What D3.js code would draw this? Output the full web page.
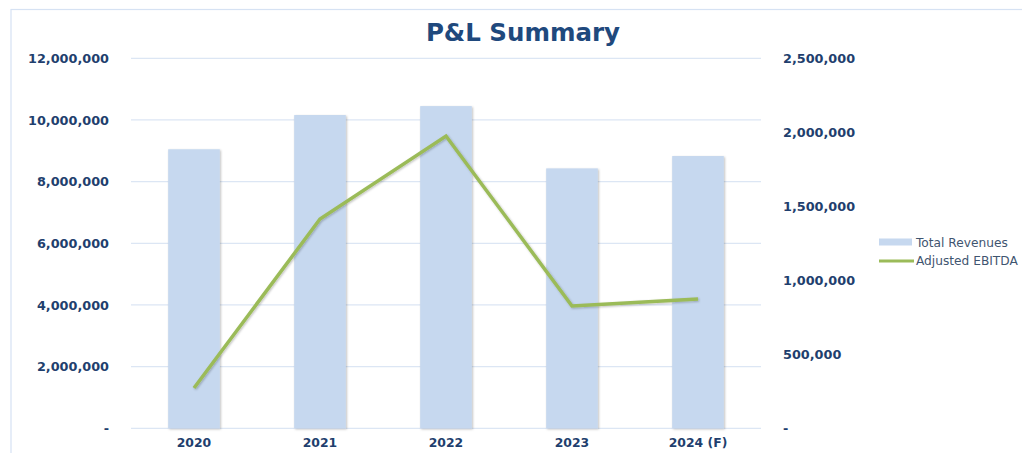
<!DOCTYPE html>
<html><head><meta charset="utf-8">
<script src="https://cdn.jsdelivr.net/npm/d3@7"></script>
<style>body{margin:0;background:#fff}svg{display:block}</style>
</head><body>
<svg id="c" width="1022" height="453"></svg>
<script>
const categories = ["2020","2021","2022","2023","2024 (F)"];
const revenues = [9050000, 10160000, 10450000, 8430000, 8830000];
const ebitda = [272000, 1414000, 1975000, 826000, 874000];
const leftTicks = [0, 2000000, 4000000, 6000000, 8000000, 10000000, 12000000];
const rightTicks = [0, 500000, 1000000, 1500000, 2000000, 2500000];
const seriesNames = ["Total Revenues", "Adjusted EBITDA"];

const svg = d3.select("#c");
const m = {l:131, r:761, t:58.3, b:428.3};
const txt = "#1F3F6E";
const FF = "Verdana, 'DejaVu Sans', sans-serif";
const fmt = v => v === 0 ? "-" : d3.format(",")(v);

const defs = svg.append("defs");
const f = defs.append("filter").attr("id","sh").attr("x","-20%").attr("y","-20%").attr("width","140%").attr("height","140%");
f.append("feDropShadow").attr("dx",1).attr("dy",1).attr("stdDeviation",1).attr("flood-color","#000").attr("flood-opacity",0.25);

// outer border
svg.append("rect").attr("x",11).attr("y",9.5).attr("width",1030).attr("height",460)
  .attr("fill","none").attr("stroke","#D6E2F3").attr("stroke-width",1.2);

const x = d3.scaleBand().domain(categories).range([m.l, m.r]).paddingInner(0.59).paddingOuter(0.295);
const yL = d3.scaleLinear().domain([0,12000000]).range([m.b, m.t]);
const yR = d3.scaleLinear().domain([0,2500000]).range([m.b, m.t]);

// gridlines
svg.append("g").selectAll("line").data(leftTicks).join("line")
  .attr("x1",m.l).attr("x2",m.r).attr("y1",d=>yL(d)).attr("y2",d=>yL(d))
  .attr("stroke","#DCE6F4").attr("stroke-width",1.3);

function styleAxis(g){
  g.select(".domain").remove();
  g.selectAll("text").attr("fill",txt).style("font-family",FF)
    .style("font-weight","bold").style("font-size","12.8px");
}
// left axis
svg.append("g").attr("transform",`translate(${m.l},0)`)
  .call(d3.axisLeft(yL).tickValues(leftTicks).tickFormat(fmt).tickSize(0).tickPadding(22)).call(styleAxis);
// right axis
svg.append("g").attr("transform",`translate(${m.r},0)`)
  .call(d3.axisRight(yR).tickValues(rightTicks).tickFormat(fmt).tickSize(0).tickPadding(22)).call(styleAxis);

// bars
svg.append("g").selectAll("rect").data(revenues).join("rect")
  .attr("x",(d,i)=>x(categories[i])).attr("width",x.bandwidth())
  .attr("y",d=>yL(d)).attr("height",d=>yL(0)-yL(d))
  .attr("fill","#C6D8EF").attr("filter","url(#sh)");

// x axis
const gx = svg.append("g").attr("transform",`translate(0,${m.b})`)
  .call(d3.axisBottom(x).tickSize(0).tickPadding(10));
gx.call(styleAxis);
gx.selectAll("text").style("font-size","12.4px");

// line
const line = d3.line().x((d,i)=>x(categories[i])+x.bandwidth()/2).y(d=>yR(d));
svg.append("path").datum(ebitda).attr("d",line).attr("fill","none")
  .attr("stroke","#9BBB59").attr("stroke-width",3.5).attr("stroke-linejoin","miter").attr("filter","url(#sh)");

// title
svg.append("text").attr("x",523).attr("y",41).attr("text-anchor","middle")
  .attr("fill","#1F497D").style("font-family",FF)
  .style("font-weight","bold").style("font-size","24.5px").text("P&L Summary");

// legend
const lg = svg.append("g");
lg.append("rect").attr("x",879).attr("y",238.5).attr("width",33).attr("height",7).attr("fill","#C6D8EF");
lg.append("line").attr("x1",879).attr("x2",914).attr("y1",261).attr("y2",261).attr("stroke","#9BBB59").attr("stroke-width",3);
lg.selectAll("text").data(seriesNames).join("text")
  .attr("x",916).attr("y",(d,i)=>246.5+i*18.5).attr("fill","#3F5570")
  .style("font-family",FF).style("font-size","12.2px").text(d=>d);
</script>
</body></html>
